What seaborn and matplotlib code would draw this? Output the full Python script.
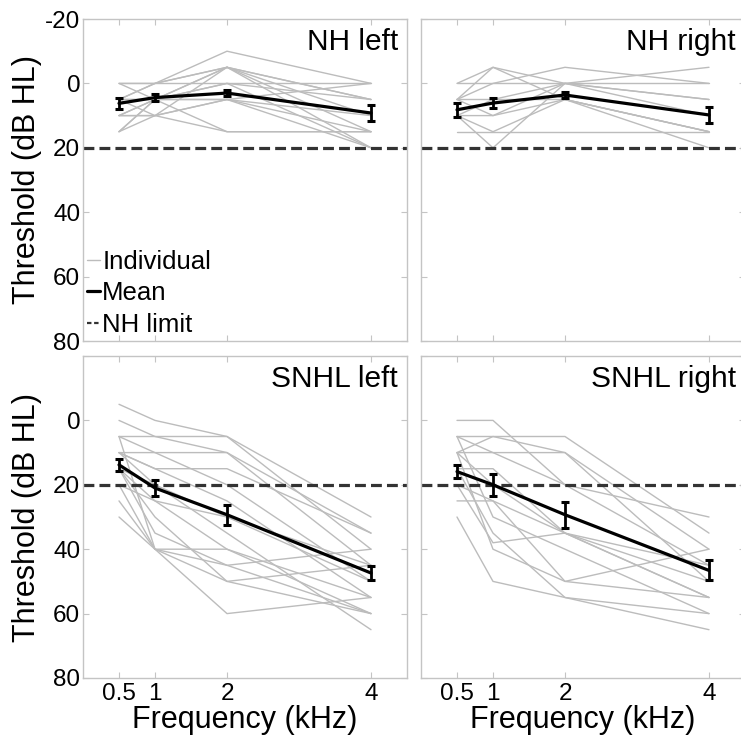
import numpy as np
import pandas as pd
import matplotlib
matplotlib.use("Agg")
import matplotlib.pyplot as plt
from matplotlib.lines import Line2D
import seaborn as sns

# ---------------- data ----------------
freqs = [0.5, 1, 2, 4]
freq_ticks = [0.5, 1, 2, 4]
freq_tick_labels = ["0.5", "1", "2", "4"]
panel_titles = ["NH left", "NH right", "SNHL left", "SNHL right"]
nh_limit = 20

nh_left_individual = [
    [0, 0, -10, 0], [5, 0, -5, 5], [10, 5, -5, 15], [15, 10, -5, 20],
    [0, 0, 0, 0], [5, 5, 5, 10], [10, 10, 15, 15], [15, 5, 0, 5],
    [5, 10, 5, 20], [0, 5, 15, 15], [10, 5, 5, 0], [5, 0, -5, 10],
    [10, 10, 5, 15], [15, 5, 0, 20], [5, 5, -5, 5],
]
nh_right_individual = [
    [5, -5, 0, 5], [0, 0, 0, 0], [5, 0, -5, 0], [10, 20, 0, -5],
    [15, 15, 15, 15], [10, 10, 5, 15], [5, 5, 0, 5], [0, -5, 5, 15],
    [10, 15, 5, 20], [5, 10, 0, 10], [10, 5, 5, 15],
]
snhl_left_individual = [
    [-5, 0, 5, 30], [0, 5, 10, 35], [5, 5, 5, 40], [5, 10, 10, 45],
    [10, 15, 15, 35], [10, 10, 20, 50], [15, 20, 30, 45], [15, 25, 40, 55],
    [20, 40, 45, 40], [25, 40, 60, 55], [30, 40, 50, 45], [5, 40, 40, 60],
    [10, 20, 35, 65], [15, 30, 50, 60], [20, 25, 30, 50], [10, 15, 25, 55],
    [15, 35, 45, 60],
]
snhl_right_individual = [
    [0, 0, 20, 30], [5, 5, 5, 35], [5, 10, 10, 40], [10, 10, 20, 45],
    [10, 5, 10, 50], [15, 15, 35, 45], [20, 25, 50, 40], [25, 25, 35, 55],
    [30, 50, 55, 60], [10, 40, 50, 55], [15, 35, 55, 65], [20, 38, 35, 50],
    [5, 30, 40, 60], [10, 20, 35, 55],
]

nh_left_mean = [6.2, 4.4, 3.0, 9.2]
nh_left_sem = [1.6, 1.1, 0.9, 2.4]
nh_right_mean = [8.2, 6.1, 3.6, 9.8]
nh_right_sem = [2.1, 1.6, 0.9, 2.5]
snhl_left_mean = [13.8, 21.0, 29.3, 47.4]
snhl_left_sem = [1.8, 2.6, 3.1, 2.1]
snhl_right_mean = [15.9, 20.0, 29.3, 46.6]
snhl_right_sem = [2.1, 3.4, 4.1, 3.1]

individual_sets = [nh_left_individual, nh_right_individual,
                   snhl_left_individual, snhl_right_individual]
mean_sets = [nh_left_mean, nh_right_mean, snhl_left_mean, snhl_right_mean]
sem_sets = [nh_left_sem, nh_right_sem, snhl_left_sem, snhl_right_sem]

# ---------------- style ----------------
sns.set_theme(style="ticks")
plt.rcParams["font.family"] = ["Liberation Sans", "DejaVu Sans"]
plt.rcParams["text.color"] = "black"
plt.rcParams["axes.labelcolor"] = "black"
plt.rcParams["xtick.labelcolor"] = "black"
plt.rcParams["ytick.labelcolor"] = "black"

GREY = "#bcbcbc"
SPINE = "#c4c4c4"
W, H = 741, 738

fig = plt.figure(figsize=(W / 100, H / 100), dpi=100)

# pixel boxes: (left, top, right, bottom)
boxes = [(83, 19, 407, 341), (421, 19, 745, 341),
         (83, 356, 407, 678), (421, 356, 745, 678)]

axes = []
for (l, t, r, b) in boxes:
    ax = fig.add_axes([l / W, 1 - b / H, (r - l) / W, (b - t) / H])
    axes.append(ax)

for i, ax in enumerate(axes):
    rows = []
    for s, vals in enumerate(individual_sets[i]):
        for f, v in zip(freqs, vals):
            rows.append({"subject": s, "freq": f, "thr": v})
    df = pd.DataFrame(rows)
    sns.lineplot(data=df, x="freq", y="thr", units="subject", estimator=None,
                 color=GREY, lw=1.0, ax=ax, legend=False, zorder=1)
    ax.axhline(nh_limit, color="#333333", lw=2.3, dashes=(3.4, 1.6), zorder=2)
    ax.errorbar(freqs, mean_sets[i], yerr=sem_sets[i], color="black", lw=2.3,
                elinewidth=2.0, capsize=2.6, capthick=2.2, zorder=3)

    ax.set_xlim(0, 4.5)
    ax.set_ylim(80, -20)
    ax.set_xticks(freq_ticks)
    ax.set_yticks([-20, 0, 20, 40, 60, 80])
    ax.tick_params(direction="in", length=4, width=0.8, color=SPINE,
                   top=True, right=True, labelsize=17.5, pad=2,
                   labelcolor="black")
    ax.tick_params(axis="x", pad=3.5)
    for sp in ax.spines.values():
        sp.set_color(SPINE)
        sp.set_linewidth(1.0)
    ax.set_xlabel("")
    ax.set_ylabel("")
    ax.text(0.972, 0.905, panel_titles[i], transform=ax.transAxes,
            ha="right", va="baseline", fontsize=21.5, color="black")

    if i in (0, 2):
        if i == 0:
            ax.set_yticklabels(["-20", "0", "20", "40", "60", "80"])
        else:
            ax.set_yticklabels(["", "0", "20", "40", "60", "80"])
        ax.set_ylabel("Threshold (dB HL)", fontsize=22, color="black")
        ax.yaxis.set_label_coords(-0.127, 0.5)
    else:
        ax.set_yticklabels([])
    if i in (2, 3):
        ax.set_xticklabels(freq_tick_labels)
        ax.set_xlabel("Frequency (kHz)", fontsize=22, labelpad=0, color="black")
    else:
        ax.set_xticklabels([])

handles = [
    Line2D([], [], color=GREY, lw=1.0),
    Line2D([], [], color="black", lw=2.3),
    Line2D([], [], color="#333333", lw=1.6, dashes=(2.0, 1.2)),
]
leg = axes[0].legend(handles, ["Individual", "Mean", "NH limit"], loc="lower left",
                     bbox_to_anchor=(0.0, 0.0), frameon=False, fontsize=18.5,
                     handlelength=0.5, handletextpad=0.1, labelspacing=0.3,
                     borderaxespad=0.0, borderpad=0.15)
for t in leg.get_texts():
    t.set_color("black")

fig.savefig("out.png", dpi=100)
